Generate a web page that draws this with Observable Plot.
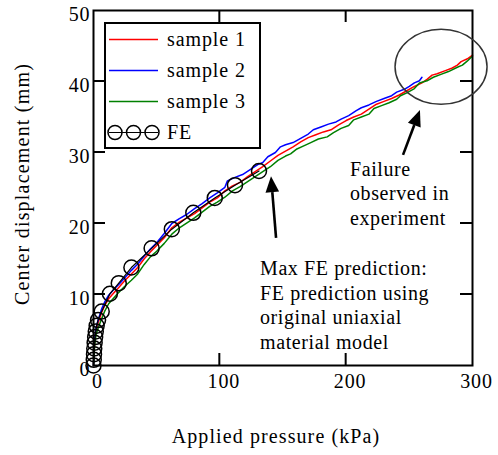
<!DOCTYPE html>
<html><head><meta charset="utf-8">
<script src="https://cdn.jsdelivr.net/npm/d3@7"></script>
<script src="https://cdn.jsdelivr.net/npm/@observablehq/plot@0.6"></script>
<style>
body{margin:0;background:#fff}
svg{display:block}
</style>
</head><body><div id="chart"></div>
<script>
// ---- data ----
const xTicks = [0, 100, 200, 300];
const yTicks = [0, 10, 20, 30, 40, 50];
const innerXTicks = [100, 200];
const innerYTicks = [10, 20, 30, 40];
const seriesNames = ["sample 1", "sample 2", "sample 3", "FE"];
const seriesColors = ["#ff0000", "#0000ff", "#008000", "#000000"];
const xLabel = "Applied pressure (kPa)";
const yLabel = "Center displacement (mm)";

// [applied pressure kPa, center displacement mm]
const sample1 = [[0,0],[0.5,2],[1,3.4],[2,4.8],[3.5,5.9],[6.5,7.5],[9,8.5],[12,9.4],[16,10.2],[20,11],[25,12],[30,12.9],[35,13.8],[40,15],[45,16],[50,16.9],[56,18],[62,19.4],[68,20.2],[74,20.8],[80,21.4],[86,22.2],[92,23],[98,23.6],[104,24.6],[110,25.3],[116,25.8],[122,26.6],[128,27.3],[134,28],[140,28.8],[146,29.6],[152,30.2],[158,30.8],[164,31.5],[170,32.1],[176,32.5],[182,32.9],[188,33.2],[194,33.9],[200,34.5],[206,35],[212,35.4],[218,36.1],[224,36.8],[230,37.2],[236,37.6],[242,38.1],[248,38.7],[254,39.3],[260,39.8],[264,40.3],[268,40.9],[272,41.1],[278,41.5],[284,41.9],[288,42.3],[291,42.8],[296,43.2],[300,43.7]];
const sample2 = [[0,0],[0.5,2.4],[1,3.9],[2,5.3],[3.5,6.3],[6.5,8],[9,9],[12,9.9],[16,10.7],[20,11.4],[25,12.4],[30,13.4],[35,14.3],[40,15.4],[45,16.4],[50,17.3],[56,18.6],[62,20],[68,20.7],[74,21.3],[80,22.1],[86,22.8],[92,23.6],[98,24.3],[104,25.1],[106,26],[112,26.5],[118,26.9],[124,27.6],[130,28.3],[134,28.6],[138,29.4],[144,30],[148,30.8],[152,31.1],[158,31.4],[164,32],[170,32.6],[174,33.2],[180,33.6],[186,34],[192,34.3],[196,34.7],[202,35.2],[208,35.9],[212,36.3],[218,36.7],[224,37.2],[230,37.6],[236,38],[240,38.5],[246,38.9],[250,39.3],[254,39.8],[258,40.1],[260,40.6]];
const sample3 = [[0,0],[0.5,1.6],[1,3],[2,4.3],[3.5,5.2],[6.5,6.6],[9,7.7],[12,8.7],[16,9.5],[20,10.3],[25,11.2],[30,12],[35,12.9],[40,14.2],[45,15.3],[50,16.1],[56,17.2],[62,18.5],[68,19.4],[74,20.1],[80,20.8],[86,21.6],[92,22.4],[98,23],[104,23.7],[110,24.6],[116,25.2],[122,25.9],[128,26.6],[134,27.3],[140,28],[146,28.9],[152,29.5],[156,29.8],[161,30.5],[166,30.9],[172,31.4],[178,31.9],[185,32.2],[190,32.8],[196,33.4],[202,33.8],[206,34.6],[212,35],[218,35.4],[222,36.2],[228,36.6],[234,37],[240,37.5],[243,38],[248,38.4],[254,39],[258,39.8],[264,40.1],[269,40.6],[275,41],[281,41.4],[288,42],[292,42.3],[296,42.9],[300,43.6]];
const feModel = [[0,0],[0.2,0.8],[0.4,1.6],[0.6,2.4],[0.9,3.2],[1.3,4],[1.8,4.8],[2.5,5.6],[3.6,6.4],[6.5,7.6],[13,10.1],[20,11.6],[30,13.8],[46,16.5],[62,19.2],[79,21.5],[96,23.6],[112,25.4],[131,27.4]];

// annotations (data coordinates)
const noteTexts = ["Max FE prediction:\nFE prediction using\noriginal uniaxial\nmaterial model", "Failure\nobserved in\nexperiment"];
const noteX = [132.2, 203.4];
const noteY = [2.25, 19.7];   // baseline of last line
const arrowFrom = [[144.9, 17.9], [245.4, 29.6]];
const arrowTo = [[140.9, 26.6], [258.8, 35.9]];
const failureCenter = [275.5, 42];

(function () {
const FONT = "Liberation Serif, Tinos, Times New Roman, Times, DejaVu Serif, Noto Serif, serif";
const rows = [];
[sample1, sample2, sample3].forEach((s, i) => s.forEach(([p, d]) => rows.push({series: seriesNames[i], p, d})));
const feRows = feModel.map(([p, d]) => ({series: "FE", p, d}));

const W = 498, H = 455;
const plot = Plot.plot({
  width: W, height: H,
  marginLeft: 93, marginRight: 26, marginTop: 10, marginBottom: 90,
  style: {background: "#fff", color: "#000"},
  x: {domain: [0, 300]},
  y: {domain: [0, 50]},
  color: {domain: seriesNames, range: seriesColors},
  marks: [
    Plot.line(rows, {x: "p", y: "d", z: "series", stroke: "series", strokeWidth: 1.5}),
    Plot.line(feRows, {x: "p", y: "d", stroke: "#000", strokeWidth: 1.2}),
    Plot.dot(feRows, {x: "p", y: "d", r: 7.5, stroke: "#000", strokeWidth: 1.5, fill: "none"}),
    Plot.axisX({ticks: xTicks, tickSize: 0, tickPadding: 8, dx: 4, fontSize: 20, fontFamily: FONT, label: null, tickFormat: d => String(d)}),
    Plot.axisY({ticks: yTicks, tickSize: 0, tickPadding: 3, dy: 4.5, fontSize: 20, fontFamily: FONT, label: null, tickFormat: d => String(d)}),
    Plot.frame({stroke: "#000", strokeWidth: 2})
  ]
});
plot.setAttribute("font-family", FONT);
plot.setAttribute("font-size", "20");
document.getElementById("chart").appendChild(plot);

const sx = plot.scale("x"), sy = plot.scale("y");
const X = sx.apply ? v => sx.apply(v) : d3.scaleLinear(sx.domain, sx.range);
const Y = sy.apply ? v => sy.apply(v) : d3.scaleLinear(sy.domain, sy.range);
const svg = d3.select(plot);
const fLeft = X(0), fRight = X(300), fTop = Y(50), fBottom = Y(0);
const TL = 12;

// inward ticks on all four sides
const tg = svg.append("g").attr("stroke", "#000").attr("stroke-width", 2);
innerXTicks.forEach(t => {
  tg.append("line").attr("x1", X(t)).attr("x2", X(t)).attr("y1", fBottom).attr("y2", fBottom - TL);
  tg.append("line").attr("x1", X(t)).attr("x2", X(t)).attr("y1", fTop).attr("y2", fTop + TL);
});
innerYTicks.forEach(t => {
  tg.append("line").attr("x1", fLeft).attr("x2", fLeft + TL).attr("y1", Y(t)).attr("y2", Y(t));
  tg.append("line").attr("x1", fRight).attr("x2", fRight - TL).attr("y1", Y(t)).attr("y2", Y(t));
});

// axis titles
svg.append("text").attr("x", 276).attr("y", 443).attr("text-anchor", "middle")
  .style("letter-spacing", "1.1px").text(xLabel);
svg.append("text").attr("transform", "translate(29,184) rotate(-90)").attr("text-anchor", "middle")
  .style("letter-spacing", "1.2px").text(yLabel);

// legend
const lg = svg.append("g");
lg.append("rect").attr("x", 105).attr("y", 23).attr("width", 155).attr("height", 125)
  .attr("fill", "#fff").attr("stroke", "#000").attr("stroke-width", 2);
seriesNames.forEach((name, i) => {
  const yy = 39.5 + i * 31;
  lg.append("line").attr("x1", 109).attr("x2", 158).attr("y1", yy).attr("y2", yy)
    .attr("stroke", seriesColors[i]).attr("stroke-width", i === 3 ? 1.2 : 1.5);
  if (i === 3) {
    [115, 133.5, 152].forEach(cx => lg.append("circle").attr("cx", cx).attr("cy", yy).attr("r", 7)
      .attr("fill", "none").attr("stroke", "#000").attr("stroke-width", 1.5));
  }
  lg.append("text").attr("x", 167).attr("y", yy + 6.5).attr("text-anchor", "start")
    .style("letter-spacing", "0.9px").text(name);
});

// failure ellipse
svg.append("ellipse").attr("cx", X(failureCenter[0])).attr("cy", Y(failureCenter[1]))
  .attr("rx", 46).attr("ry", 37.5).attr("fill", "none").attr("stroke", "#333").attr("stroke-width", 1.5);

// arrows
arrowFrom.forEach((f, i) => {
  const x1 = X(f[0]), y1 = Y(f[1]), x2 = X(arrowTo[i][0]), y2 = Y(arrowTo[i][1]);
  const dx = x2 - x1, dy = y2 - y1, L = Math.hypot(dx, dy), ux = dx / L, uy = dy / L;
  const hl = 16, hw = 6.8;
  const bx = x2 - ux * hl, by = y2 - uy * hl;
  svg.append("line").attr("x1", x1).attr("y1", y1).attr("x2", bx).attr("y2", by)
    .attr("stroke", "#000").attr("stroke-width", 2.6);
  svg.append("path").attr("d", `M${x2},${y2}L${bx - uy * hw},${by + ux * hw}L${bx + uy * hw},${by - ux * hw}Z`)
    .attr("fill", "#000");
});

// annotation texts
noteTexts.forEach((t, i) => {
  const lines = t.split("\n");
  const n = lines.length, lh = 24.7;
  const x0 = X(noteX[i]), yLast = Y(noteY[i]);
  const tx = svg.append("text").attr("text-anchor", "start").style("letter-spacing", "0.6px");
  lines.forEach((ln, j) => tx.append("tspan").attr("x", x0).attr("y", yLast - (n - 1 - j) * lh).text(ln));
});

// enforce the font on every text element
svg.selectAll("text").attr("font-family", FONT).style("font-family", FONT).style("font-size", "20px");
svg.selectAll("g[aria-label$='tick label'] text, g[aria-label='x-axis tick label'] text, g[aria-label='y-axis tick label'] text").style("letter-spacing", "0.9px");
})();
</script>
</body></html>
